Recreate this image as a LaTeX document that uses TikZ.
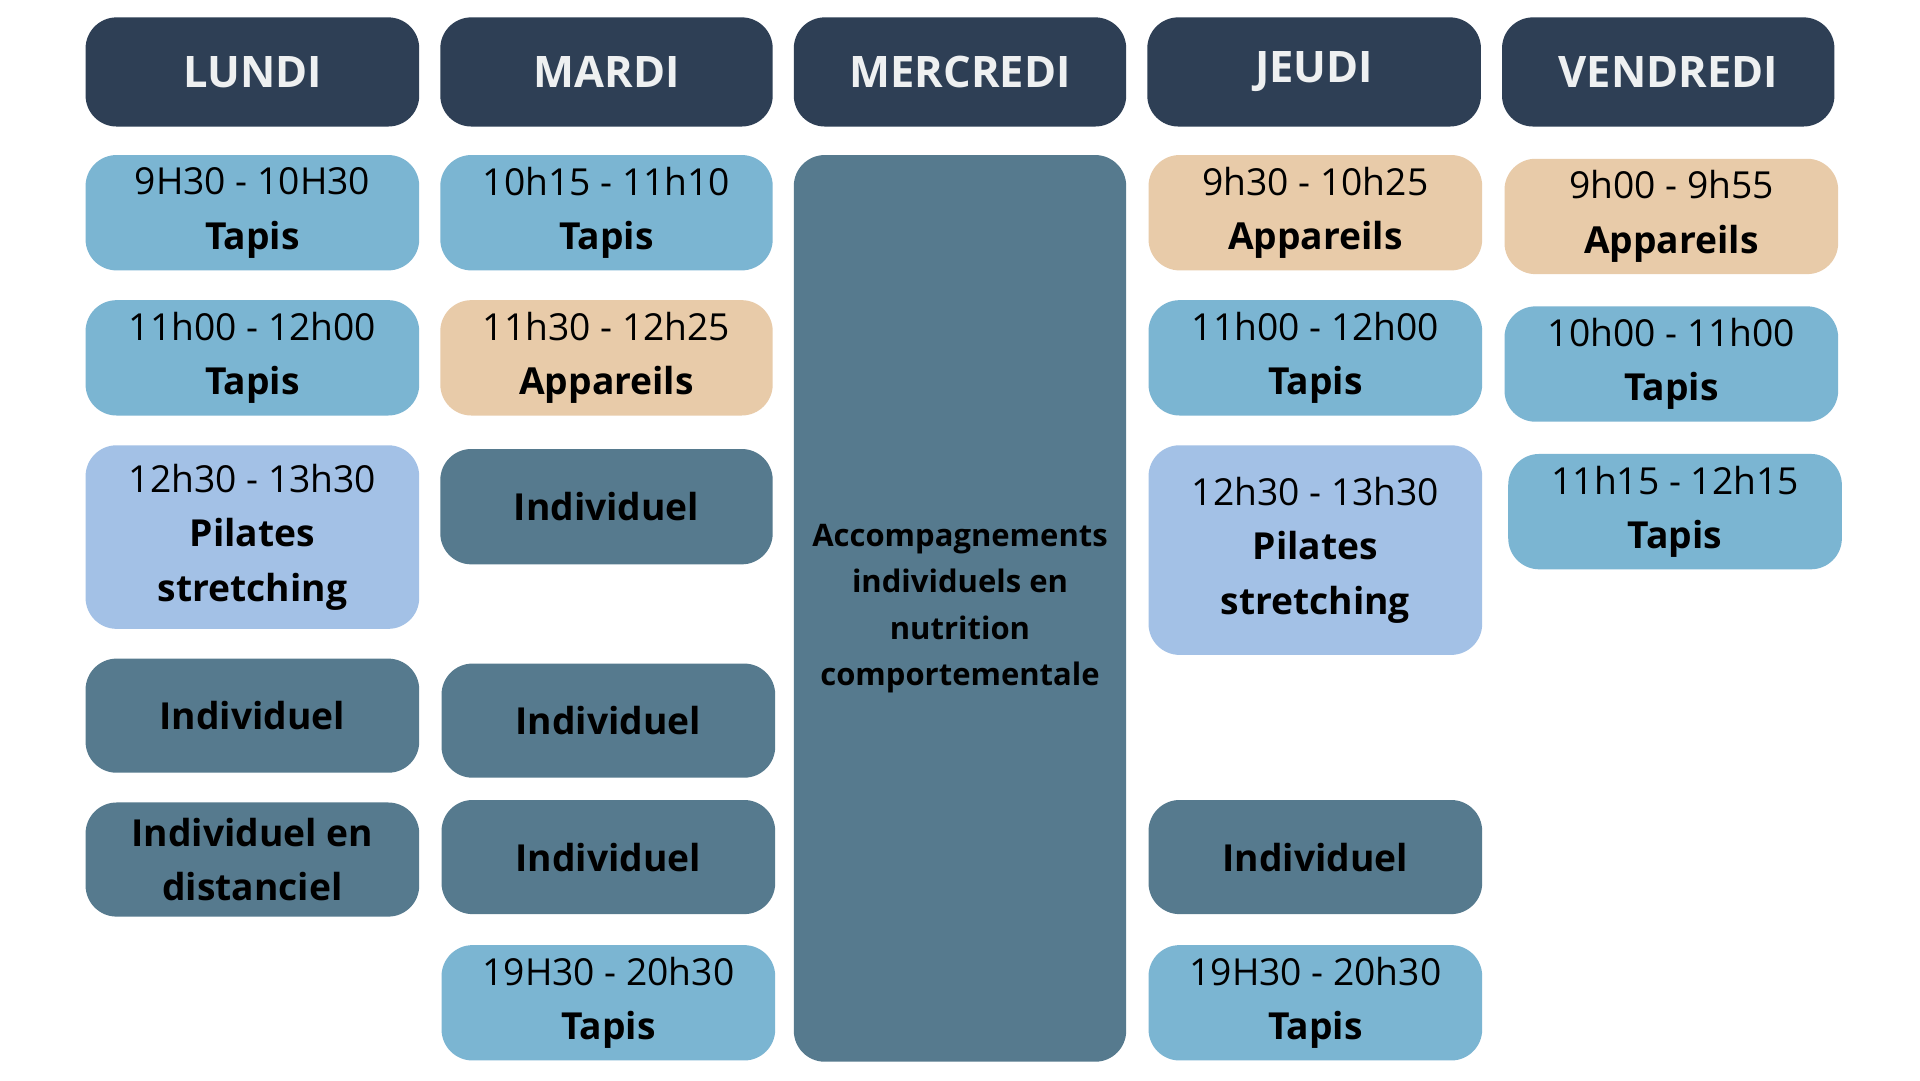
\documentclass[tikz,border=0pt]{standalone}
\usepackage{fontspec}
\setmainfont{Open Sans}
\definecolor{hdr}{HTML}{2E3F55}
\definecolor{blu}{HTML}{7BB5D2}
\definecolor{bei}{HTML}{E8CBA9}
\definecolor{lav}{HTML}{A3C1E6}
\definecolor{sla}{HTML}{567A8E}
\tikzset{
 cell/.style={rectangle,rounded corners=25pt,inner sep=0pt,align=center,text=black,font=\fontsize{30}{44}\selectfont},
 head/.style={cell,fill=hdr,text=white!92!hdr,font=\fontsize{35}{40}\selectfont\bfseries},
}
% name, x1, y1, x2, y2, style, text
\newcommand\bx[7]{\node[cell,#6,minimum width=#4pt-#2pt,minimum height=#5pt-#3pt] (#1) at ({(#2+#4)/2},{(#3+#5)/2}) {#7};}
\begin{document}
\begin{tikzpicture}[x=1pt,y=-1pt]
\useasboundingbox (0,0) rectangle (1548,871);
\fill[white] (0,0) rectangle (1548,871);
\bx{h1}{69}{14}{338}{102}{head}{LUNDI}
\bx{h2}{355}{14}{623}{102}{head}{MARDI}
\bx{h3}{640}{14}{908}{102}{head}{MERCREDI}
\bx{h4}{925}{14}{1194}{102}{head}{JEUDI}
\bx{h5}{1211}{14}{1479}{102}{head}{VENDREDI}
% Lundi
\bx{l1}{69}{125}{338}{218}{fill=blu}{9H30 - 10H30\\\textbf{Tapis}}
\bx{l2}{69}{242}{338}{335}{fill=blu}{11h00 - 12h00\\\textbf{Tapis}}
\bx{l3}{69}{359}{338}{507}{fill=lav}{12h30 - 13h30\\\textbf{Pilates}\\\textbf{stretching}}
\bx{l4}{69}{531}{338}{623}{fill=sla}{\textbf{Individuel}}
\bx{l5}{69}{647}{338}{739}{fill=sla}{\textbf{Individuel en}\\\textbf{distanciel}}
% Mardi
\bx{m1}{355}{125}{623}{218}{fill=blu}{10h15 - 11h10\\\textbf{Tapis}}
\bx{m2}{355}{242}{623}{335}{fill=bei}{11h30 - 12h25\\\textbf{Appareils}}
\bx{m3}{355}{362}{623}{455}{fill=sla}{\textbf{Individuel}}
\bx{m4}{356}{535}{625}{627}{fill=sla}{\textbf{Individuel}}
\bx{m5}{356}{645}{625}{737}{fill=sla}{\textbf{Individuel}}
\bx{m6}{356}{762}{625}{855}{fill=blu}{19H30 - 20h30\\\textbf{Tapis}}
% Mercredi
\bx{w1}{640}{125}{908}{856}{fill=sla,font=\fontsize{25}{37.5}\selectfont\bfseries}{Accompagnements\\individuels en\\nutrition\\comportementale}
% Jeudi
\bx{j1}{926}{125}{1195}{218}{fill=bei}{9h30 - 10h25\\\textbf{Appareils}}
\bx{j2}{926}{242}{1195}{335}{fill=blu}{11h00 - 12h00\\\textbf{Tapis}}
\bx{j3}{926}{359}{1195}{528}{fill=lav}{12h30 - 13h30\\\textbf{Pilates}\\\textbf{stretching}}
\bx{j4}{926}{645}{1195}{737}{fill=sla}{\textbf{Individuel}}
\bx{j5}{926}{762}{1195}{855}{fill=blu}{19H30 - 20h30\\\textbf{Tapis}}
% Vendredi
\bx{v1}{1213}{128}{1482}{221}{fill=bei}{9h00 - 9h55\\\textbf{Appareils}}
\bx{v2}{1213}{247}{1482}{340}{fill=blu}{10h00 - 11h00\\\textbf{Tapis}}
\bx{v3}{1216}{366}{1485}{459}{fill=blu}{11h15 - 12h15\\\textbf{Tapis}}
\end{tikzpicture}
\end{document}
